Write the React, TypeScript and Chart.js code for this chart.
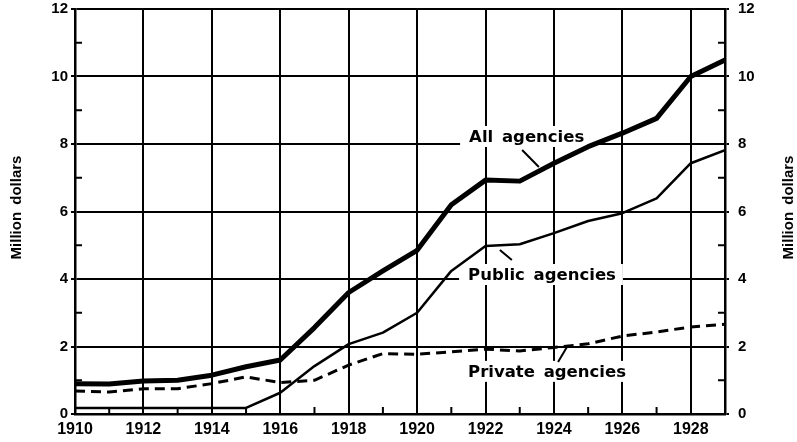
import { useEffect, useRef } from "react";
import { Chart, registerables } from "chart.js";

Chart.register(...registerables);

const years = [1910, 1911, 1912, 1913, 1914, 1915, 1916, 1917, 1918, 1919, 1920, 1921, 1922, 1923, 1924, 1925, 1926, 1927, 1928, 1929];
const allAgencies = [0.9, 0.89, 0.98, 1.0, 1.15, 1.4, 1.6, 2.56, 3.6, 4.24, 4.85, 6.2, 6.93, 6.9, 7.43, 7.92, 8.32, 8.76, 10.0, 10.49];
const publicAgencies = [0.18, 0.18, 0.18, 0.18, 0.18, 0.18, 0.63, 1.42, 2.07, 2.41, 3.0, 4.24, 4.98, 5.03, 5.36, 5.72, 5.95, 6.39, 7.43, 7.82];
const privateAgencies = [0.68, 0.65, 0.75, 0.75, 0.9, 1.1, 0.93, 1.0, 1.45, 1.79, 1.77, 1.84, 1.92, 1.87, 1.97, 2.08, 2.31, 2.43, 2.58, 2.66];

const xTickYears = [1910, 1912, 1914, 1916, 1918, 1920, 1922, 1924, 1926, 1928];
const minorYears = [1911, 1913, 1915, 1917, 1919, 1921, 1923, 1925, 1927];
const yTickValues = [0, 2, 4, 6, 8, 10, 12];
const minorValues = [1, 3, 5, 7, 9, 11];

const axisTitle = "Million dollars";

// annotation placement (in data coordinates)
const seriesLabels = [
  { text: "All agencies", x: 1921.52, y: 8.06, leader: [[1923.07, 7.82], [1923.56, 7.32]] },
  { text: "Public agencies", x: 1921.49, y: 3.97, leader: [[1922.42, 4.86], [1922.77, 4.56]] },
  { text: "Private agencies", x: 1921.49, y: 1.1, leader: [[1924.41, 2.04], [1924.12, 1.54]] },
];

const tickFont = { family: "'Liberation Sans', Arial, sans-serif", weight: "bold" as const };

const decorPlugin = {
  id: "decor",
  beforeDatasetsDraw(chart: any) {
    const { ctx, chartArea: a, scales } = chart;
    const xs = scales.x;
    const ys = scales.y;
    ctx.save();
    ctx.strokeStyle = "#000";
    ctx.lineWidth = 2;
    minorYears.forEach((v) => {
      const px = xs.getPixelForValue(v);
      ctx.beginPath();
      ctx.moveTo(px, a.bottom);
      ctx.lineTo(px, a.bottom - 7);
      ctx.stroke();
    });
    minorValues.forEach((v) => {
      const py = ys.getPixelForValue(v);
      ctx.beginPath();
      ctx.moveTo(a.left, py);
      ctx.lineTo(a.left + 7, py);
      ctx.moveTo(a.right, py);
      ctx.lineTo(a.right - 7, py);
      ctx.stroke();
    });

    ctx.font = "bold 16.5px 'DejaVu Sans', sans-serif";
    (ctx as any).wordSpacing = "3px";
    ctx.textBaseline = "alphabetic";
    ctx.textAlign = "left";
    seriesLabels.forEach((l) => {
      const px = xs.getPixelForValue(l.x);
      const py = ys.getPixelForValue(l.y);
      const w = ctx.measureText(l.text).width;
      ctx.fillStyle = "#fff";
      ctx.fillRect(px - 9, py - 16, w + 16, 21);
      ctx.fillStyle = "#000";
      ctx.fillText(l.text, px, py);
      ctx.beginPath();
      ctx.lineWidth = 2;
      ctx.moveTo(xs.getPixelForValue(l.leader[0][0]), ys.getPixelForValue(l.leader[0][1]));
      ctx.lineTo(xs.getPixelForValue(l.leader[1][0]), ys.getPixelForValue(l.leader[1][1]));
      ctx.stroke();
    });

    // axis titles
    ctx.font = "bold 15px 'Liberation Sans', Arial, sans-serif";
    ctx.textAlign = "center";
    ctx.textBaseline = "middle";
    const cy = (a.top + a.bottom) / 2 - 4;
    [17, 789].forEach((tx) => {
      ctx.save();
      ctx.translate(tx, cy);
      ctx.rotate(-Math.PI / 2);
      ctx.fillText(axisTitle, 0, 0);
      ctx.restore();
    });
    ctx.restore();
  },
};

export default function App() {
  const ref = useRef<HTMLCanvasElement | null>(null);

  useEffect(() => {
    if (!ref.current) return;
    const chart = new Chart(ref.current, {
      type: "line",
      data: {
        labels: years,
        datasets: [
          {
            label: "All agencies",
            data: years.map((yr, i) => ({ x: yr, y: allAgencies[i] })),
            borderColor: "#000",
            borderWidth: 5,
            pointRadius: 0,
            tension: 0,
            borderJoinStyle: "round",
          },
          {
            label: "Public agencies",
            data: years.map((yr, i) => ({ x: yr, y: publicAgencies[i] })),
            borderColor: "#000",
            borderWidth: 2.5,
            pointRadius: 0,
            tension: 0,
            borderJoinStyle: "round",
          },
          {
            label: "Private agencies",
            data: years.map((yr, i) => ({ x: yr, y: privateAgencies[i] })),
            borderColor: "#000",
            borderWidth: 3,
            borderDash: [10, 6],
            pointRadius: 0,
            tension: 0,
          },
        ],
      },
      options: {
        animation: false,
        responsive: false,
        events: [],
        layout: { padding: { top: 9, left: 0, right: 0, bottom: 0 } },
        plugins: { legend: { display: false }, tooltip: { enabled: false } },
        scales: {
          x: {
            type: "linear",
            min: 1910,
            max: 1929,
            afterBuildTicks: (s: any) => {
              s.ticks = xTickYears.map((v) => ({ value: v }));
            },
            afterFit: (s: any) => {
              s.height = 28;
              s.paddingLeft = 0;
              s.paddingRight = 0;
            },
            ticks: {
              color: "#000",
              font: { ...tickFont, size: 16 },
              padding: 6,
              maxRotation: 0,
              autoSkip: false,
              callback: (v: any) => String(v),
            },
            grid: { color: "#000", lineWidth: 2, drawTicks: false },
            border: { color: "#000", width: 2.5 },
          },
          y: {
            type: "linear",
            position: "left",
            min: 0,
            max: 12,
            afterBuildTicks: (s: any) => {
              s.ticks = yTickValues.map((v) => ({ value: v }));
            },
            afterFit: (s: any) => {
              s.width = 75;
              s.paddingTop = 0;
              s.paddingBottom = 0;
            },
            ticks: {
              color: "#000",
              font: { ...tickFont, size: 15 },
              padding: 3,
              callback: (v: any) => String(v),
            },
            grid: { color: "#000", lineWidth: 2, tickLength: 4, tickColor: "#000" },
            border: { color: "#000", width: 2.5 },
          },
          y1: {
            type: "linear",
            position: "right",
            min: 0,
            max: 12,
            afterBuildTicks: (s: any) => {
              s.ticks = yTickValues.map((v) => ({ value: v }));
            },
            afterFit: (s: any) => {
              s.width = 72;
              s.paddingTop = 0;
              s.paddingBottom = 0;
            },
            ticks: {
              color: "#000",
              font: { ...tickFont, size: 15 },
              padding: 9,
              callback: (v: any) => String(v),
            },
            grid: { drawOnChartArea: false, color: "#000", lineWidth: 2, tickLength: 4, tickColor: "#000" },
            border: { color: "#000", width: 2.5 },
          },
        },
      },
      plugins: [decorPlugin],
    } as any);
    return () => chart.destroy();
  }, []);

  return (
    <div style={{ position: "fixed", left: 0, top: 0, width: 797, height: 442, background: "#fff" }}>
      <canvas ref={ref} width={797} height={442} style={{ width: 797, height: 442, display: "block" }} />
    </div>
  );
}
